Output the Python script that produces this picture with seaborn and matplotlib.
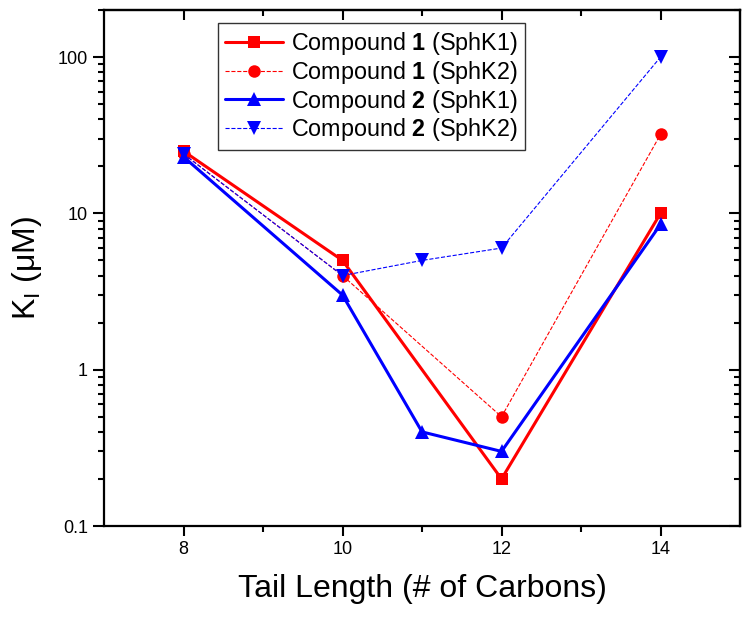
import matplotlib
matplotlib.use('Agg')
import matplotlib.pyplot as plt
import pandas as pd
import seaborn as sns
from matplotlib.ticker import LogLocator, NullFormatter, FixedLocator

# data (tail length vs K_I in uM)
c1_k1_x = [8, 10, 12, 14]
c1_k1_y = [25, 5, 0.2, 10]
c1_k2_x = [8, 10, 12, 14]
c1_k2_y = [24, 4, 0.5, 32]
c2_k1_x = [8, 10, 11, 12, 14]
c2_k1_y = [23, 3, 0.4, 0.3, 8.5]
c2_k2_x = [8, 10, 11, 12, 14]
c2_k2_y = [24, 4, 5, 6, 100]

labels = [r'Compound $\mathbf{1}$ (SphK1)', r'Compound $\mathbf{1}$ (SphK2)',
          r'Compound $\mathbf{2}$ (SphK1)', r'Compound $\mathbf{2}$ (SphK2)']

sns.set_style('ticks')
plt.rcParams['font.family'] = ['Liberation Sans', 'DejaVu Sans']
plt.rcParams['mathtext.fontset'] = 'custom'
plt.rcParams['mathtext.rm'] = 'Liberation Sans'
plt.rcParams['mathtext.it'] = 'Liberation Sans:italic'
plt.rcParams['mathtext.bf'] = 'Liberation Sans:bold'
plt.rcParams['text.color'] = 'black'
plt.rcParams['axes.labelcolor'] = 'black'
plt.rcParams['xtick.color'] = 'black'
plt.rcParams['ytick.color'] = 'black'

fig = plt.figure(figsize=(7.51, 6.20), dpi=100)
ax = fig.add_axes([0.1385, 0.1516, 0.8469, 0.8323])

series = [
    (c1_k1_x, c1_k1_y, 'red', 's', '-', 2.2, 8),
    (c1_k2_x, c1_k2_y, 'red', 'o', '--', 0.8, 9),
    (c2_k1_x, c2_k1_y, 'blue', '^', '-', 2.2, 10),
    (c2_k2_x, c2_k2_y, 'blue', 'v', '--', 0.8, 10),
]
for (xs, ys, col, mk, ls, lw, ms), lab in zip(series, labels):
    df = pd.DataFrame({'x': xs, 'y': ys})
    line_kw = dict(dashes=(5, 4)) if ls == '--' else {}
    sns.lineplot(data=df, x='x', y='y', ax=ax, color=col, marker=mk,
                 markersize=ms, markeredgewidth=0, linewidth=lw,
                 linestyle=ls, label=lab, **line_kw)

ax.set_yscale('log')
ax.set_xlim(7, 15)
ax.set_ylim(0.1, 200)
ax.set_xticks([8, 10, 12, 14])
ax.xaxis.set_minor_locator(FixedLocator([9, 11, 13]))
ax.set_yticks([0.1, 1, 10, 100])
ax.set_yticklabels(['0.1', '1', '10', '100'])
ax.yaxis.set_minor_locator(LogLocator(base=10, subs=range(2, 10)))
ax.yaxis.set_minor_formatter(NullFormatter())

ax.tick_params(which='major', direction='out', length=7, width=1.5,
               labelsize=13)
ax.tick_params(which='minor', direction='out', length=4, width=1.5)
ax.tick_params(axis='y', which='major', length=8)

for sp in ax.spines.values():
    sp.set_visible(True)
    sp.set_linewidth(1.6)
    sp.set_color('black')

# mirrored ticks pointing inward on top and right
top = ax.secondary_xaxis('top')
top.set_xticks([8, 10, 12, 14])
top.xaxis.set_minor_locator(FixedLocator([9, 11, 13]))
top.tick_params(which='major', direction='in', length=7, width=1.5,
                labeltop=False)
top.tick_params(which='minor', direction='in', length=4, width=1.5)
right = ax.secondary_yaxis('right')
right.set_yticks([0.1, 1, 10, 100])
right.yaxis.set_minor_locator(LogLocator(base=10, subs=range(2, 10)))
right.yaxis.set_minor_formatter(NullFormatter())
right.tick_params(which='major', direction='in', length=8, width=1.5,
                  labelright=False)
right.tick_params(which='minor', direction='in', length=4, width=1.5)
for sec in (top, right):
    for sp in sec.spines.values():
        sp.set_linewidth(1.6)

ax.set_xlabel('Tail Length (# of Carbons)', fontsize=23, labelpad=12)
ax.set_ylabel(r'K$_\mathrm{I}$ (μM)', fontsize=23, labelpad=10)

leg = ax.legend(loc='upper left', bbox_to_anchor=(0.18, 0.975), fontsize=16.8,
                frameon=True, fancybox=False, edgecolor='black',
                handlelength=2.45, handletextpad=0.35, labelspacing=0.08,
                borderpad=0.3, borderaxespad=0)
leg.get_frame().set_linewidth(1.0)

fig.savefig('out.png', dpi=100)
